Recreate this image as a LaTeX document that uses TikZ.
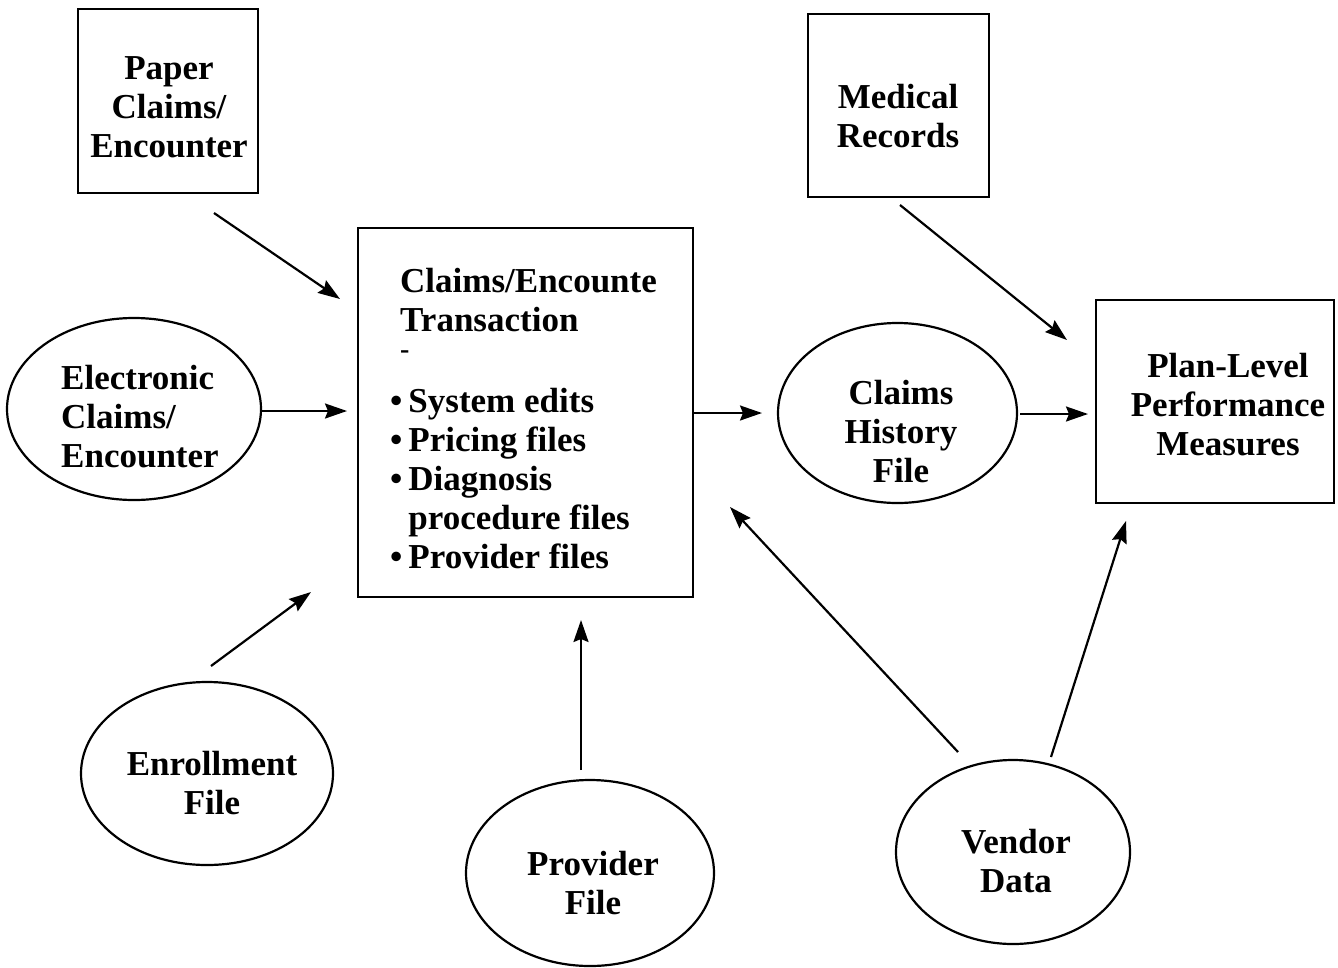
\documentclass[tikz,border=0pt]{standalone}
\usepackage{fontspec}
\setmainfont{Liberation Serif}
\usetikzlibrary{shapes.geometric,arrows.meta}
\newcommand{\mlc}[1]{\begin{tabular}[t]{@{}c@{}}#1\end{tabular}}
\newcommand{\mll}[1]{\begin{tabular}[t]{@{}l@{}}#1\end{tabular}}
\begin{document}
\begin{tikzpicture}[x=1pt,y=-1pt,
  box/.style={draw,line width=2.4pt,rectangle,inner sep=0pt},
  oval/.style={draw,line width=2.2pt,ellipse,inner sep=0pt},
  txt/.style={font=\fontsize{35}{39}\selectfont\bfseries,inner sep=0pt,anchor=base},
  arr/.style={line width=2.2pt,-{Stealth[length=22pt,width=15pt,inset=3pt]}}]
\useasboundingbox (0,0) rectangle (1338,967);

% boxes
\node[box,minimum width=180pt,minimum height=184pt] (paper) at (168,101) {};
\node[box,minimum width=181pt,minimum height=183pt] (medical) at (898.5,105.5) {};
\node[box,minimum width=335pt,minimum height=369pt] (central) at (525.5,412.5) {};
\node[box,minimum width=238pt,minimum height=203pt] (plan) at (1215,401.5) {};

% ellipses
\node[oval,minimum width=254pt,minimum height=182pt] (electronic) at (134,409) {};
\node[oval,minimum width=239pt,minimum height=180pt] (history) at (897.5,413) {};
\node[oval,minimum width=252pt,minimum height=183pt] (enrollment) at (207,773.5) {};
\node[oval,minimum width=248pt,minimum height=186pt] (provider) at (590,873) {};
\node[oval,minimum width=234pt,minimum height=184pt] (vendor) at (1013,852) {};

% texts
\node[txt] (paperT) at (169,79) {\mlc{Paper\\Claims/\\Encounter}};
\node[txt] (medicalT) at (898,108) {\mlc{Medical\\Records}};
\node[txt] (planT) at (1228,377) {\mlc{Plan-Level\\Performance\\Measures}};
\node[txt] (historyT) at (901,404) {\mlc{Claims\\History\\File}};
\node[txt,anchor=base west] (electronicT) at (61,389) {\mll{Electronic\\Claims/\\Encounter}};
\node[txt] (enrollmentT) at (212,775) {\mlc{Enrollment\\File}};
\node[txt] (providerT) at (593,875) {\mlc{Provider\\File}};
\node[txt] (vendorT) at (1016,853) {\mlc{Vendor\\Data}};

\node[txt,anchor=base west] (centralT) at (400,292) {\mll{Claims/Encounte\\Transaction}};
\node[txt,anchor=base west,font=\fontsize{28}{30}\selectfont\bfseries] (dash) at (400,358) {-};
\node[txt,anchor=base west] (centralL) at (390,412) {\mll{•\hspace{6pt}System edits\\•\hspace{6pt}Pricing files\\•\hspace{6pt}Diagnosis\\\hphantom{•}\hspace{6pt}procedure files\\•\hspace{6pt}Provider files}};

% connector end points
\coordinate (p1) at (214,213);   \coordinate (q1) at (340,299);
\coordinate (p2) at (261,411);   \coordinate (q2) at (347,411);
\coordinate (p3) at (211,666);   \coordinate (q3) at (311,592);
\coordinate (p4) at (581,770);   \coordinate (q4) at (581,620);
\coordinate (p5) at (693,413);   \coordinate (q5) at (762,413);
\coordinate (p6) at (958,752);   \coordinate (q6) at (730,507);
\coordinate (p7) at (1051,757);  \coordinate (q7) at (1126,521);
\coordinate (p8) at (1020,414);  \coordinate (q8) at (1088,414);
\coordinate (p9) at (900,205);   \coordinate (q9) at (1067,340);

\draw[arr] (p1) -- (q1);
\draw[arr] (p2) -- (q2);
\draw[arr] (p3) -- (q3);
\draw[arr] (p4) -- (q4);
\draw[arr] (p5) -- (q5);
\draw[arr] (p6) -- (q6);
\draw[arr] (p7) -- (q7);
\draw[arr] (p8) -- (q8);
\draw[arr] (p9) -- (q9);
\end{tikzpicture}
\end{document}
